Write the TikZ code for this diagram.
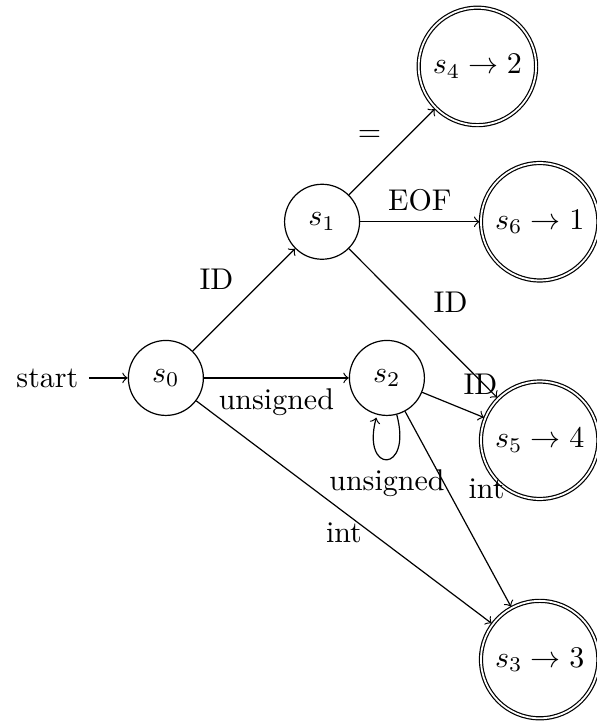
\documentclass[tikz,border=0pt]{standalone}
\usepackage{tikz}
\usetikzlibrary{automata}
\usetikzlibrary{positioning}

\begin{document}
\begin{tikzpicture}
[every state/.style={draw=black,thin},
  final/.style={state,accepting},
  every edge/.style={draw,->}]

\useasboundingbox (-55.3pt,-114.7pt) rectangle (143.7pt,126pt);

\draw (0,0) node [state,initial] (s0) {$s_0$}
      (1.83,1.83) node [state] (s1) {$s_1$}
      (2.59,0) node [state] (s2) {$s_2$}
      (3.65,3.65) node [final] (s4) {$s_4 \to 2$}
      (4.38,1.83) node [final] (s6) {$s_6 \to 1$}
      (4.38,-0.73) node [final] (s5) {$s_5 \to 4$}
      (4.38,-3.30) node [final] (s3) {$s_3 \to 3$};

\path (s0) edge node [above left] {ID} (s1)
           edge node [below] {unsigned} (s2)
           edge node [below] {int} (s3)
      (s1) edge node [above left] {$=$} (s4)
           edge node [above] {EOF} (s6)
           edge node [above right] {ID} (s5)
      (s2) edge node [above right] {ID} (s5)
           edge node [above right] {int} (s3)
           edge [loop below] node [below] {unsigned} (s2);
\end{tikzpicture}
\end{document}
